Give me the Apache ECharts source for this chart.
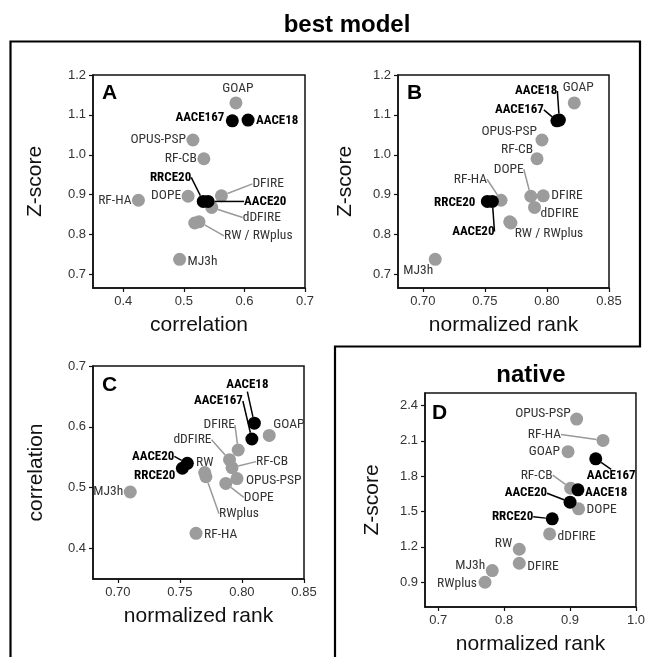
<!DOCTYPE html>
<html><head><meta charset="utf-8">
<script src="https://cdn.jsdelivr.net/npm/echarts@6/dist/echarts.min.js"></script>
<style>html,body{margin:0;padding:0;background:#fff}#c{width:648px;height:657px}</style>
</head><body><div id="c"></div>
<script>
// ---- data ----
const methods = ['GOAP','AACE167','AACE18','OPUS-PSP','RF-CB','DFIRE','dDFIRE','DOPE','RF-HA','RRCE20','AACE20','RW','RWplus','MJ3h'];
const highlighted = ['AACE167','AACE18','RRCE20','AACE20'];
const bestCorrelation = [0.586,0.580,0.606,0.515,0.533,0.562,0.546,0.507,0.425,0.532,0.540,0.525,0.518,0.493];
const bestRank        = [0.822,0.808,0.810,0.796,0.792,0.797,0.790,0.787,0.763,0.752,0.756,0.770,0.771,0.710];
const bestZscore      = [1.130,1.085,1.087,1.037,0.990,0.897,0.868,0.896,0.886,0.883,0.883,0.832,0.829,0.738];
const nativeRank      = [0.897,0.939,0.912,0.910,0.901,0.823,0.869,0.913,0.950,0.873,0.900,0.823,0.771,0.782];
const nativeZscore    = [2.007,1.947,1.684,2.284,1.698,1.061,1.310,1.523,2.103,1.438,1.579,1.180,0.900,0.999];

const ticksCorrelationX = [0.4,0.5,0.6,0.7];
const ticksBestZ        = [0.7,0.8,0.9,1.0,1.1,1.2];
const ticksBestRank     = [0.70,0.75,0.80,0.85];
const ticksCorrelationY = [0.4,0.5,0.6,0.7];
const ticksNativeRank   = [0.7,0.8,0.9,1.0];
const ticksNativeZ      = [0.9,1.2,1.5,1.8,2.1,2.4];

// ---- label placement (pixel offsets from point centre) ----
const layoutA = {'GOAP':[2,-14,'center'],'AACE167':[-8,-3,'right'],'AACE18':[8,1,'left'],'OPUS-PSP':[-7,0,'right'],
  'RF-CB':[-7,0,'right'],'RF-HA':[-7,0,'right'],'DOPE':[-7,-1,'right'],'DFIRE':[31,-12,'left',1],'dDFIRE':[31,10,'left',1],
  'AACE20':[36,0,'left',1],'RRCE20':[-12,-24,'right',1],'RW':[25,14,'left',1],'MJ3h':[8,2,'left']};
const layoutB = {'GOAP':[4,-15,'center'],'AACE18':[-2,-29,'right',1],'AACE167':[-13,-11,'right',1],'OPUS-PSP':[-5,-8,'right'],
  'RF-CB':[-4,-9,'right'],'DOPE':[-22,-27,'center',1],'RF-HA':[-14,-21,'right',1],'DFIRE':[8,0,'left'],'dDFIRE':[6,6,'left'],
  'RRCE20':[-12,1,'right'],'AACE20':[-19,30,'center',1],'RW':[5,12,'left'],'MJ3h':[-2,11,'right']};
const layoutC = {'AACE18':[-7,-38,'center',1],'AACE167':[-9,-38,'right',1],'GOAP':[4,-11,'left'],'DFIRE':[-19,-25,'center',1],
  'dDFIRE':[-18,-20,'right',1],'RF-CB':[24,-6,'left',1],'OPUS-PSP':[9,2,'left'],'DOPE':[18,14,'left',1],'RW':[0,-10,'center'],
  'RWplus':[33,37,'center',1],'AACE20':[-13,-7,'right',1],'RRCE20':[-7,8,'right'],'MJ3h':[-7,0,'right'],'RF-HA':[8,1,'left']};
const layoutD = {'OPUS-PSP':[-6,-5,'right'],'RF-HA':[-42,-6,'right',1],'GOAP':[-8,0,'right'],'AACE167':[-9,17,'left',1],
  'RF-CB':[-18,-13,'right',1],'AACE18':[7,3,'left'],'AACE20':[-23,-9,'right',1],'DOPE':[8,1,'left'],'RRCE20':[-19,-2,'right',1],
  'dDFIRE':[8,3,'left'],'RW':[-7,-6,'right'],'DFIRE':[8,3,'left'],'MJ3h':[-7,-5,'right'],'RWplus':[-8,1,'right']};
const mergedRW = {'RW':'RW / RWplus','RWplus':null};

const GRAY = '#9c9c9c';
const LABEL_FONT = "'Roboto Condensed','Liberation Sans Narrow','DejaVu Sans Condensed',sans-serif";
const AXIS_FONT = "'Liberation Sans',Arial,sans-serif";

function mkAxis(gi, min, max, ticks, dec, name, gap) {
  return { type:'value', gridIndex:gi, min:min, max:max, name:name, nameLocation:'middle', nameGap:gap,
    nameTextStyle:{fontSize:21, color:'#111', fontFamily:AXIS_FONT},
    axisLine:{show:true, onZero:false, lineStyle:{color:'#111', width:1.5}},
    axisTick:{show:true, length:4, customValues:ticks, lineStyle:{color:'#111', width:1.2}},
    axisLabel:{show:true, customValues:ticks, formatter:function(v){return Number(v).toFixed(dec);},
      fontSize:13, color:'#333', margin:7, fontFamily:AXIS_FONT},
    splitLine:{show:false} };
}

function buildSeries(gi, xs, ys, layout, textMap, hl) {
  const names = methods.filter(m => hl ? highlighted.includes(m) : !highlighted.includes(m));
  const data = names.map(m => {
    const i = methods.indexOf(m);
    const o = layout[m];
    const txt = (textMap && (m in textMap)) ? textMap[m] : m;
    return { name:m, value:[xs[i], ys[i]],
      label:{show: txt !== null, formatter: txt === null ? '' : txt},
      labelLine:{show: !!(o && o[3])} };
  });
  return { type:'scatter', xAxisIndex:gi, yAxisIndex:gi, symbol:'circle', symbolSize:13, z: hl ? 4 : 3,
    itemStyle:{color: hl ? '#000' : GRAY, opacity:1},
    label:{show:true, fontFamily:LABEL_FONT, fontSize: hl ? 13 : 13.5, color: hl ? '#000' : '#333', fontWeight: hl ? 'bold' : 'normal'},
    labelLine:{lineStyle:{color: hl ? '#000' : '#999', width:1.5}},
    labelLayout:function(p){
      const m = names[p.dataIndex]; const o = layout[m] || [8,0,'left'];
      const cx = p.rect.x + p.rect.width/2, cy = p.rect.y + p.rect.height/2;
      return {x: cx + o[0], y: cy + o[1], align: o[2], verticalAlign: 'middle'};
    },
    emphasis:{disabled:true}, data:data };
}

const grids = [
  {left:93, top:75, width:212, height:213},
  {left:398, top:75, width:211, height:213},
  {left:93, top:366, width:211, height:213},
  {left:425, top:393, width:212, height:214}
].map(g => Object.assign({show:true, borderColor:'#111', borderWidth:1.5, backgroundColor:'#fff'}, g));

function txt(text, x, y, font, align) {
  return {type:'text', x:x, y:y, z:10, style:{text:text, font:font, fill:'#000',
    align:align||'left', verticalAlign:'top', textAlign:align||'left', textVerticalAlign:'top'}};
}

const option = {
  animation:false,
  backgroundColor:'#fff',
  grid:grids,
  xAxis:[
    mkAxis(0, 0.35, 0.7, ticksCorrelationX, 1, 'correlation', 27),
    mkAxis(1, 0.68, 0.85, ticksBestRank, 2, 'normalized rank', 27),
    mkAxis(2, 0.68, 0.85, ticksBestRank, 2, 'normalized rank', 27),
    mkAxis(3, 0.68, 1.0, ticksNativeRank, 1, 'normalized rank', 27)
  ],
  yAxis:[
    mkAxis(0, 0.666, 1.2, ticksBestZ, 1, 'Z-score', 47),
    mkAxis(1, 0.666, 1.2, ticksBestZ, 1, 'Z-score', 42),
    mkAxis(2, 0.35, 0.7, ticksCorrelationY, 1, 'correlation', 46),
    mkAxis(3, 0.69, 2.505, ticksNativeZ, 1, 'Z-score', 42)
  ],
  series:[
    buildSeries(0, bestCorrelation, bestZscore, layoutA, mergedRW, false),
    buildSeries(0, bestCorrelation, bestZscore, layoutA, mergedRW, true),
    buildSeries(1, bestRank, bestZscore, layoutB, mergedRW, false),
    buildSeries(1, bestRank, bestZscore, layoutB, mergedRW, true),
    buildSeries(2, bestRank, bestCorrelation, layoutC, null, false),
    buildSeries(2, bestRank, bestCorrelation, layoutC, null, true),
    buildSeries(3, nativeRank, nativeZscore, layoutD, null, false),
    buildSeries(3, nativeRank, nativeZscore, layoutD, null, true)
  ],
  graphic:[
    {type:'polyline', z:1, shape:{points:[[335,660],[335,346.5],[640,346.5],[640,41.5],[10.5,41.5],[10.5,660]]},
      style:{stroke:'#000', lineWidth:2.2, fill:null}},
    txt('best model', 347, 13, "bold 24px 'Liberation Sans',Arial,sans-serif", 'center'),
    txt('native', 531, 363, "bold 24px 'Liberation Sans',Arial,sans-serif", 'center'),
    txt('A', 102, 83, "bold 21px 'Liberation Sans',Arial,sans-serif"),
    txt('B', 407, 83, "bold 21px 'Liberation Sans',Arial,sans-serif"),
    txt('C', 102, 375, "bold 21px 'Liberation Sans',Arial,sans-serif"),
    txt('D', 432, 403, "bold 21px 'Liberation Sans',Arial,sans-serif")
  ]
};
const chart = echarts.init(document.getElementById('c'), null, {renderer:'canvas'});
chart.setOption(option);
</script></body></html>
